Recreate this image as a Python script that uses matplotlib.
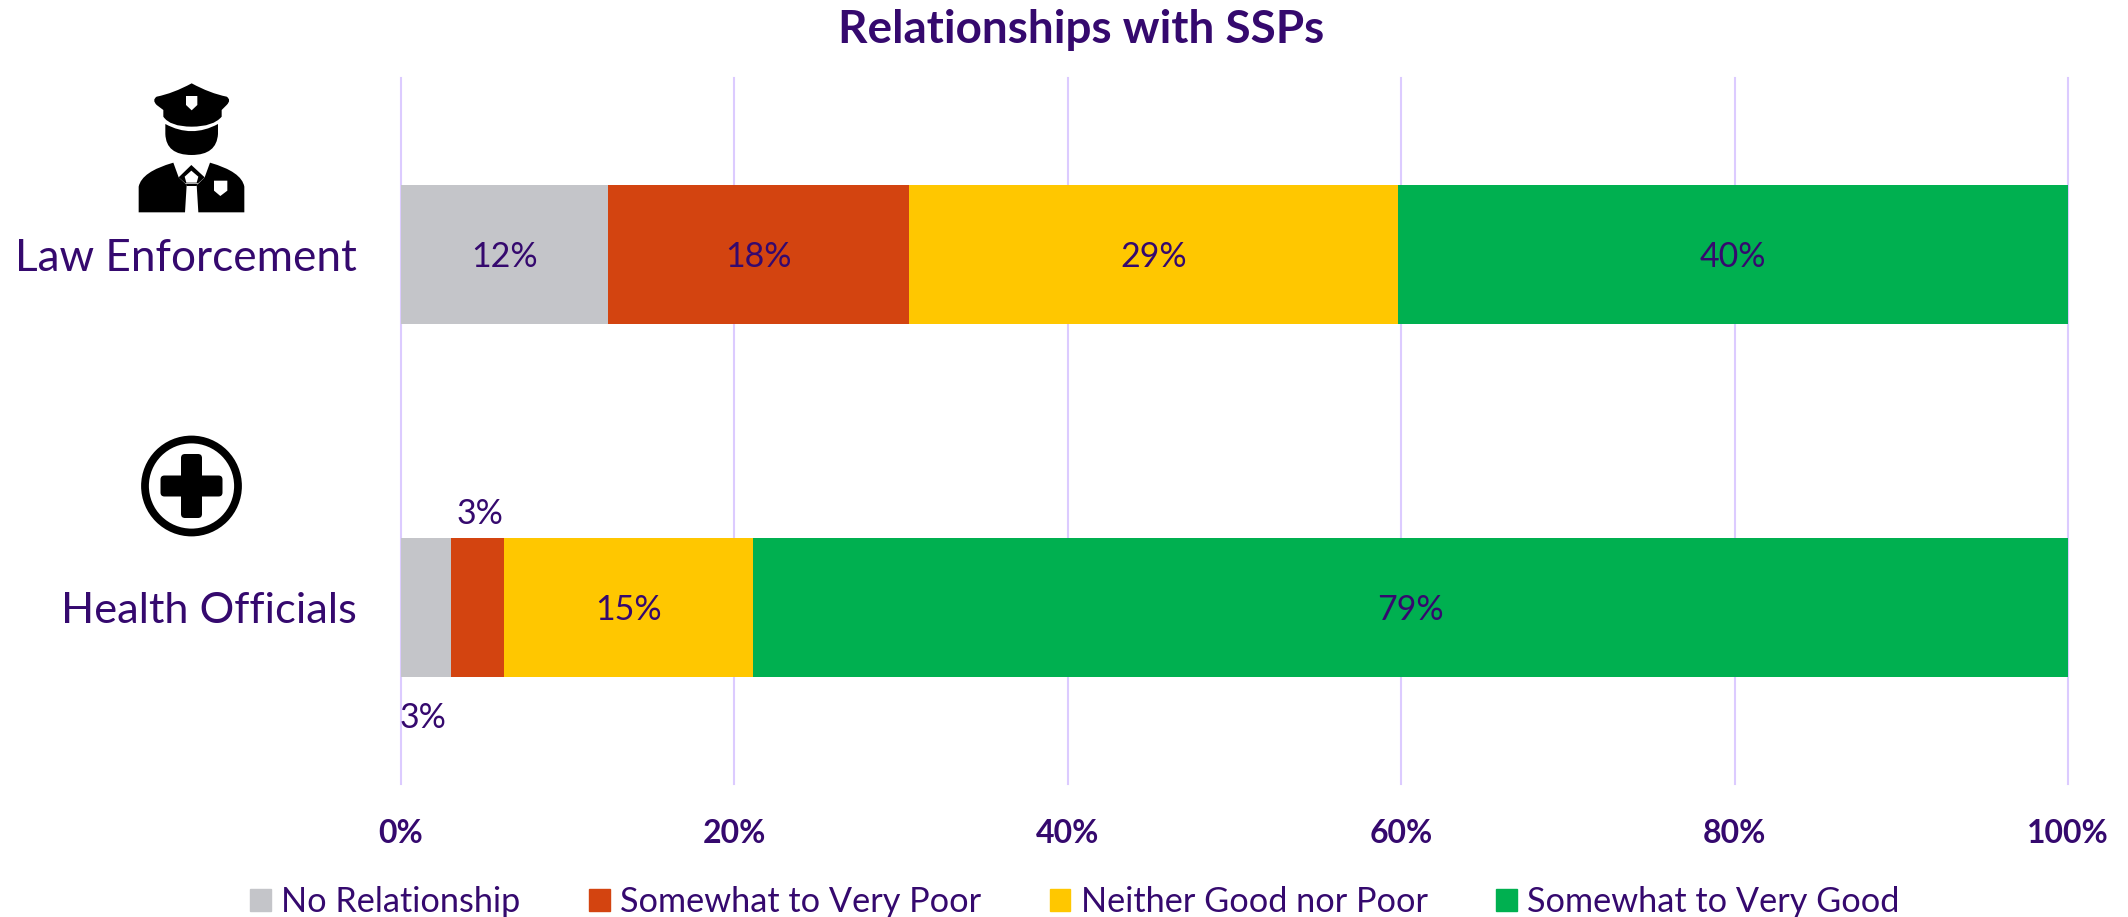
import matplotlib
matplotlib.use('Agg')
import matplotlib.pyplot as plt
from matplotlib.patches import Patch, PathPatch, Circle, FancyBboxPatch, Polygon
from matplotlib.path import Path

plt.rcParams['font.family'] = ['Lato', 'DejaVu Sans']

# Values
categories = ['Law Enforcement', 'Health Officials']
series_names = ['No Relationship', 'Somewhat to Very Poor', 'Neither Good nor Poor', 'Somewhat to Very Good']
no_relationship = [12.4, 3.0]
very_poor = [18.1, 3.2]
neither = [29.3, 14.9]
very_good = [40.2, 78.9]
shown_labels = [['12%', '18%', '29%', '40%'], ['3%', '3%', '15%', '79%']]
x_ticks = [0, 20, 40, 60, 80, 100]

colors = ['#C4C5C9', '#D34410', '#FFC700', '#00B050']
purple = '#35096E'
grid_color = '#DCCBFF'

W, H = 2128, 917
fig = plt.figure(figsize=(W / 100, H / 100), dpi=100)

# Axes placed in pixels
left, right, top, bottom = 401, 2068, 78, 784
ax = fig.add_axes([left / W, 1 - bottom / H, (right - left) / W, (bottom - top) / H])

values = [no_relationship, very_poor, neither, very_good]
bar_h = 0.396
label_size = 24.5
starts = [0, 0]
for s, vals in enumerate(values):
    ax.barh(range(2), vals, left=starts, height=bar_h, color=colors[s], zorder=2)
    for i in range(2):
        cx = starts[i] + vals[i] / 2
        # the two thin Health Officials segments have their labels outside the bar
        if i == 1 and s == 0:
            offset = (-2, -29)
            xy = (cx, i + bar_h / 2)
        elif i == 1 and s == 1:
            offset = (2, 17)
            xy = (cx, i - bar_h / 2)
        else:
            offset = (0, -2)
            xy = (cx, i)
        ax.annotate(shown_labels[i][s], xy, xytext=offset, textcoords='offset points',
                    ha='center', va='center', color=purple, fontsize=label_size, zorder=3)
    starts = [a + b for a, b in zip(starts, vals)]

ax.set_xlim(0, 100)
ax.set_ylim(1.5, -0.5)
ax.set_xticks(x_ticks)
ax.set_xticklabels([f'{t}%' for t in x_ticks], fontweight='bold', fontsize=23, color=purple)
ax.set_yticks(range(2))
ax.set_yticklabels(categories, fontsize=31.8, color=purple)
ax.get_yticklabels()[1].set_fontsize(31.2)
ax.tick_params(axis='both', length=0)
ax.tick_params(axis='x', pad=25)
ax.tick_params(axis='y', pad=32)
ax.grid(axis='x', color=grid_color, linewidth=1.5, zorder=0)
ax.set_axisbelow(True)
for gl in ax.get_xgridlines():
    gl.set_clip_on(False)
for sp in ax.spines.values():
    sp.set_visible(False)

fig.text(1081 / W, 1 - 30 / H, 'Relationships with SSPs', ha='center', va='center',
         fontsize=33, fontweight='bold', color=purple)

handles = [Patch(color=c) for c in colors]
fig.legend(handles, series_names, loc='center', bbox_to_anchor=(1075 / W, 1 - 902 / H), ncols=4,
           frameon=False, fontsize=24.7, labelcolor=purple, handlelength=0.6, handleheight=0.6,
           handletextpad=0.3, columnspacing=2.0, borderpad=0, borderaxespad=0)

# Icons on an overlay in pixel coordinates
ov = fig.add_axes([0, 0, 1, 1], zorder=5)
ov.set_xlim(0, W)
ov.set_ylim(H, 0)
ov.axis('off')
ov.patch.set_alpha(0)


def z(pts):
    return [(x / 3, y / 3 + 50) for x, y in pts]


def curve(start, *segs):
    verts = [start]
    codes = [Path.MOVETO]
    for seg in segs:
        verts.extend(seg)
        codes.extend([Path.LINETO] if len(seg) == 1 else [Path.CURVE3, Path.CURVE3])
    verts.append(start)
    codes.append(Path.CLOSEPOLY)
    return Path(z(verts), codes)


cap = curve((575, 100), [(630, 130), (680, 140)], [(695, 150), (680, 165)], [(665, 180)], [(665, 200)],
            [(640, 230), (575, 230)], [(510, 230), (490, 200)], [(490, 180)], [(470, 165)], [(455, 150), (470, 140)],
            [(520, 130), (575, 100)])
face = curve((496, 222), [(575, 265), (654, 222)], [(654, 252)], [(650, 315), (575, 315)], [(498, 315), (496, 252)])
body_l = curve((416, 487), [(416, 410)], [(425, 365), (520, 338)], [(536, 382)], [(555, 400)], [(560, 405)], [(555, 487)])
body_r = curve((733, 487), [(733, 410)], [(725, 365), (630, 338)], [(614, 382)], [(596, 400)], [(590, 405)], [(595, 487)])
for p in [cap, face, body_l, body_r]:
    ov.add_patch(PathPatch(p, facecolor='black', edgecolor='none'))
ov.add_patch(Polygon(z([(574, 345), (614, 382), (594, 400), (556, 400), (536, 382)]), facecolor='black', edgecolor='none'))
ov.add_patch(Polygon(z([(574, 362), (595, 380), (590, 398), (559, 398), (554, 380)]), facecolor='white', edgecolor='none'))
ov.add_patch(Polygon(z([(558, 402), (592, 402), (590, 408), (560, 408)]), facecolor='black', edgecolor='none'))
ov.add_patch(Polygon(z([(558, 138), (592, 138), (592, 165), (575, 181), (558, 165)]), facecolor='white', edgecolor='none'))
ov.add_patch(Polygon(z([(642, 392), (682, 392), (682, 422), (661, 438), (642, 422)]), facecolor='white', edgecolor='none'))

# cross in circle
cx, cy, r = 191.5, 486, 46.5
ov.add_patch(Circle((cx, cy), r, facecolor='white', edgecolor='black', linewidth=5.6))
ov.add_patch(FancyBboxPatch((cx - 31 + 4, cy - 10.5 + 4), 54, 13, boxstyle='round,pad=4', facecolor='black', edgecolor='none'))
ov.add_patch(FancyBboxPatch((cx - 10.5 + 4, cy - 32 + 4), 13, 56, boxstyle='round,pad=4', facecolor='black', edgecolor='none'))

fig.savefig('out.png', dpi=100)
